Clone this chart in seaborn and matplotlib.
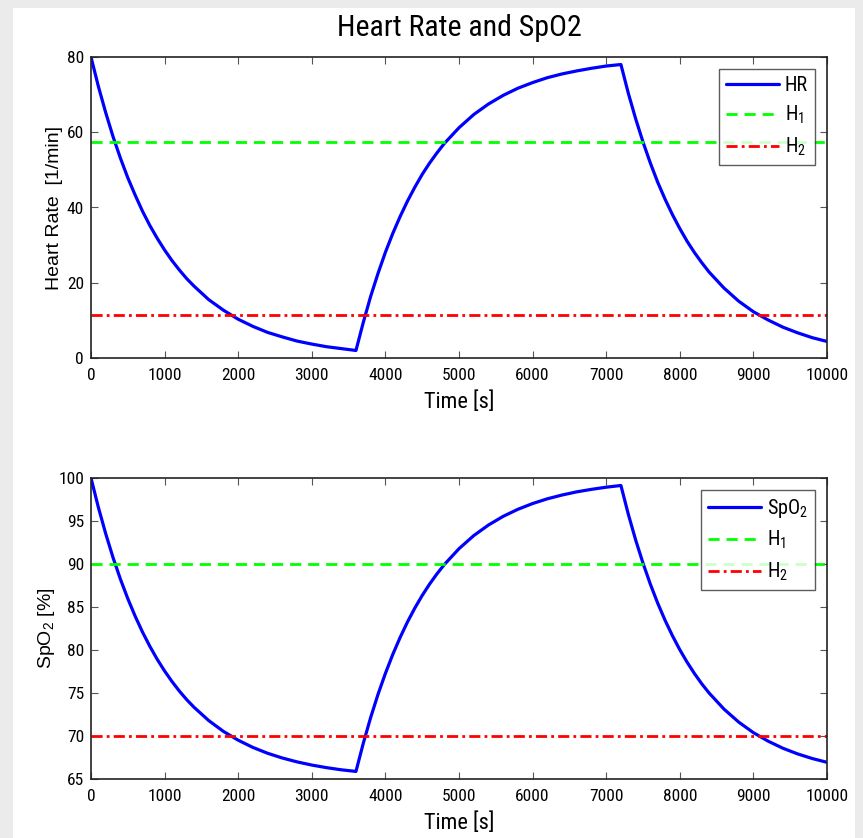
import matplotlib
matplotlib.use("Agg")
import matplotlib.pyplot as plt
from matplotlib import font_manager
from matplotlib.patches import Rectangle
import seaborn as sns
import pandas as pd

# ---------------- data ----------------
time_s = [0, 100, 200, 300, 400, 500, 600, 700, 800, 900, 1000, 1100, 1200, 1300,
          1400, 1600, 1800, 2000, 2200, 2400, 2600, 2800, 3000, 3200, 3400, 3600,
          3700, 3800, 3900, 4000, 4100, 4200, 4300, 4400, 4500, 4600, 4700, 4800,
          5000, 5200, 5400, 5600, 5800, 6000, 6200, 6400, 6600, 6800, 7000, 7200,
          7300, 7400, 7500, 7600, 7700, 7800, 7900, 8000, 8100, 8200, 8300, 8400,
          8600, 8800, 9000, 9200, 9400, 9600, 9800, 10000]
heart_rate = [80.0, 72.2, 65.2, 58.8, 53.1, 47.9, 43.3, 39.0, 35.2, 31.8, 28.7, 25.9, 23.4, 21.1,
              19.1, 15.5, 12.7, 10.3, 8.4, 6.8, 5.6, 4.5, 3.7, 3.0, 2.5, 2.0,
              9.5, 16.4, 22.5, 28.1, 33.1, 37.6, 41.7, 45.4, 48.8, 51.8, 54.5, 57.0,
              61.2, 64.7, 67.5, 69.8, 71.7, 73.2, 74.5, 75.5, 76.3, 77.0, 77.6, 78.0,
              70.4, 63.6, 57.4, 51.8, 46.7, 42.2, 38.1, 34.4, 31.0, 28.0, 25.3, 22.8,
              18.6, 15.1, 12.3, 10.1, 8.2, 6.7, 5.4, 4.4]
spo2 = [100.0, 96.59, 93.52, 90.73, 88.23, 85.97, 83.93, 82.08, 80.42, 78.91, 77.56, 76.34, 75.23, 74.23,
        73.34, 71.79, 70.53, 69.51, 68.67, 67.99, 67.44, 66.99, 66.62, 66.32, 66.07, 65.88,
        69.17, 72.16, 74.85, 77.28, 79.48, 81.46, 83.26, 84.88, 86.34, 87.66, 88.85, 89.93,
        91.78, 93.30, 94.53, 95.54, 96.36, 97.03, 97.58, 98.02, 98.39, 98.68, 98.93, 99.13,
        95.80, 92.80, 90.10, 87.65, 85.44, 83.45, 81.66, 80.03, 78.57, 77.25, 76.05, 74.98,
        73.13, 71.62, 70.39, 69.40, 68.58, 67.92, 67.38, 66.94]
hr_thresholds = [57.4, 11.43]     # H1, H2
spo2_thresholds = [90.0, 70.0]    # H1, H2
x_ticks = [0, 1000, 2000, 3000, 4000, 5000, 6000, 7000, 8000, 9000, 10000]
hr_ticks = [0, 20, 40, 60, 80]
spo2_ticks = [65, 70, 75, 80, 85, 90, 95, 100]

# ---------------- style ----------------
sns.set_style("ticks")
available = {f.name for f in font_manager.fontManager.ttflist}
narrow = None
for cand in ["Liberation Sans Narrow", "DejaVu Sans Condensed", "Roboto Condensed",
             "Open Sans Condensed", "Liberation Sans"]:
    if cand in available:
        narrow = cand
        break
regular = "Liberation Sans" if "Liberation Sans" in available else "DejaVu Sans"
plt.rcParams["font.family"] = [narrow, "DejaVu Sans"]
plt.rcParams["mathtext.default"] = "regular"
plt.rcParams["xtick.direction"] = "in"
plt.rcParams["ytick.direction"] = "in"
plt.rcParams["text.color"] = "black"
plt.rcParams["axes.labelcolor"] = "black"
plt.rcParams["xtick.labelcolor"] = "black"
plt.rcParams["ytick.labelcolor"] = "black"

W, H = 863, 838
fig = plt.figure(figsize=(W / 100, H / 100), dpi=100, facecolor="#ebebeb")
fig.patches.append(Rectangle((13 / W, 0), (855 - 13) / W, 1 - 8 / H,
                             transform=fig.transFigure, facecolor="white",
                             edgecolor="none", zorder=-10))

ax_w = (827 - 91) / W
ax_h = (358 - 57) / H
ax1 = fig.add_axes([91 / W, 1 - 358 / H, ax_w, ax_h])
ax2 = fig.add_axes([91 / W, 1 - 779 / H, ax_w, ax_h])

df_hr = pd.DataFrame({"t": time_s, "v": heart_rate})
df_sp = pd.DataFrame({"t": time_s, "v": spo2})

def draw(ax, df, thr, main_label, ylabel, ylim, yticks, ylabelpad):
    sns.lineplot(data=df, x="t", y="v", ax=ax, color="#0000ff", lw=2.3,
                 label=main_label, legend=False)
    ax.axhline(thr[0], color="#00ff00", lw=2.0, ls=(0, (4, 2.5)), label="H$_1$")
    ax.axhline(thr[1], color="#ff0000", lw=2.0, ls=(0, (4, 1.5, 1, 1.5)), label="H$_2$")
    ax.set_xlim(0, 10000)
    ax.set_ylim(*ylim)
    ax.set_xticks(x_ticks)
    ax.set_yticks(yticks)
    ax.tick_params(axis="both", which="both", top=True, right=True, length=5,
                   width=0.8, color="#555555", labelsize=12.5)
    ax.tick_params(axis="x", pad=7)
    ax.tick_params(axis="y", pad=5)
    for s in ax.spines.values():
        s.set_color("#222222")
        s.set_linewidth(1.2)
    ax.set_xlabel("Time [s]", fontsize=16, labelpad=6)
    ax.set_ylabel(ylabel, fontsize=14, family=[regular, "DejaVu Sans"], labelpad=ylabelpad)
    leg = ax.legend(loc="upper right", fontsize=14.5, frameon=True, fancybox=False,
                    edgecolor="#333333", handlelength=2.6, handletextpad=0.3,
                    borderaxespad=0.6, labelspacing=0.45, borderpad=0.35)
    leg.get_frame().set_linewidth(1.0)
    ax.set_facecolor("white")

draw(ax1, df_hr, hr_thresholds, "HR", "Heart Rate  [1/min]", (0, 80), hr_ticks, 3)
draw(ax2, df_sp, spo2_thresholds, "SpO$_2$", "SpO$_2$ [%]", (65, 100), spo2_ticks, 1)

fig.text(459 / W, 1 - 28 / H, "Heart Rate and SpO2", ha="center", va="center",
         fontsize=21.5)

fig.savefig("out.png", dpi=100, facecolor=fig.get_facecolor())
